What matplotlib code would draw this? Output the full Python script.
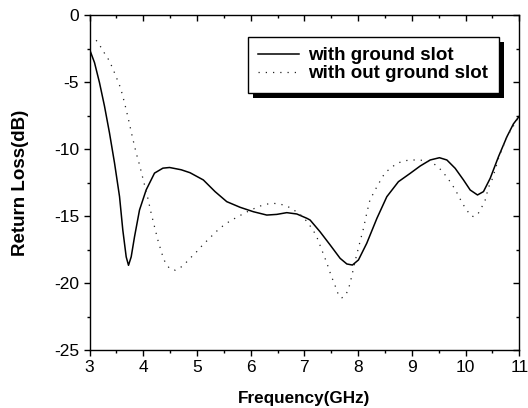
import matplotlib
matplotlib.use("Agg")
import matplotlib.pyplot as plt
from matplotlib.patches import Rectangle
from matplotlib.transforms import IdentityTransform
from matplotlib.ticker import MultipleLocator

plt.rcParams['font.family'] = ['Liberation Sans', 'DejaVu Sans']

freq_slot = [3.0, 3.093, 3.186, 3.279, 3.372, 3.466, 3.559, 3.62, 3.683, 3.726,
             3.776, 3.838, 3.931, 4.055, 4.21, 4.366, 4.49, 4.707, 4.871, 5.119,
             5.337, 5.555, 5.803, 6.05, 6.30, 6.486, 6.672, 6.859, 7.045, 7.106,
             7.29, 7.479, 7.665, 7.79, 7.894, 8.006, 8.16, 8.35, 8.534, 8.75,
             8.968, 9.155, 9.341, 9.514, 9.652, 9.806, 9.961, 10.086, 10.222, 10.333,
             10.458, 10.613, 10.77, 10.89, 11.0]
rl_slot = [-2.55, -3.55, -5.05, -6.8, -8.8, -11.05, -13.55, -16.05, -18.05, -18.68,
           -18.05, -16.55, -14.55, -13.05, -11.8, -11.43, -11.38, -11.55, -11.77, -12.31,
           -13.18, -13.93, -14.35, -14.68, -14.93, -14.88, -14.75, -14.85, -15.17, -15.3,
           -16.17, -17.16, -18.16, -18.58, -18.66, -18.28, -17.04, -15.17, -13.56, -12.44,
           -11.82, -11.27, -10.82, -10.65, -10.82, -11.44, -12.31, -13.06, -13.43, -13.18,
           -12.19, -10.57, -9.08, -8.13, -7.55]

freq_noslot = [3.124, 3.217, 3.29, 3.372, 3.478, 3.577, 3.652, 3.726, 3.795, 3.869,
               3.931, 3.993, 4.086, 4.148, 4.21, 4.273, 4.347, 4.397, 4.49, 4.60,
               4.738, 4.871, 4.996, 5.107, 5.231, 5.356, 5.48, 5.616, 5.741, 5.877,
               6.007, 6.144, 6.274, 6.41, 6.535, 6.672, 6.803, 6.933, 7.045, 7.138,
               7.22, 7.32, 7.42, 7.50, 7.56, 7.646, 7.70, 7.758, 7.82, 7.882,
               7.944, 8.04, 8.1, 8.16, 8.22, 8.35, 8.50, 8.72, 8.875, 9.0,
               9.12, 9.266, 9.384, 9.514, 9.62, 9.713, 9.793, 9.868, 9.93, 10.0,
               10.1, 10.16, 10.23, 10.30, 10.365, 10.427, 10.49, 10.54, 10.613, 10.77,
               11.0]
rl_noslot = [-1.88, -2.43, -2.93, -3.43, -4.43, -5.43, -6.55, -7.8, -9.05, -10.3,
             -11.18, -12.18, -13.68, -14.8, -15.8, -16.8, -17.8, -18.35, -18.93, -19.05,
             -18.73, -18.16, -17.66, -17.16, -16.67, -16.17, -15.75, -15.37, -15.1, -14.8,
             -14.55, -14.3, -14.13, -14.05, -14.1, -14.25, -14.55, -14.93, -15.4, -15.92,
             -16.45, -17.49, -18.53, -19.48, -20.07, -21.02, -21.1, -20.97, -20.47, -19.48,
             -18.36, -16.84, -15.92, -14.8, -13.8, -12.81, -11.77, -11.07, -10.87, -10.82,
             -10.82, -10.87, -11.02, -11.44, -11.94, -12.44, -12.94, -13.48, -13.98, -14.43,
             -15.0, -15.05, -14.85, -14.35, -13.81, -12.86, -12.31, -11.69, -10.7, -9.08,
             -7.55]

labels = ['with ground slot', 'with out ground slot']
x_ticks = [3, 4, 5, 6, 7, 8, 9, 10, 11]
y_ticks = [0, -5, -10, -15, -20, -25]

W, H = 528, 408
fig = plt.figure(figsize=(W / 100, H / 100), dpi=100)
ax = fig.add_axes([89.5 / W, 1 - 350 / H, (519.3 - 89.5) / W, (350 - 15) / H])

ax.plot(freq_slot, rl_slot, color='black', lw=1.1, label=labels[0])
ax.plot(freq_noslot, rl_noslot, color='#222222', lw=0.9, linestyle=(0, (1, 4.8)),
        label=labels[1])

ax.set_xlim(3, 11)
ax.set_ylim(-25, 0)
ax.set_xticks(x_ticks)
ax.set_yticks(y_ticks)
ax.set_xticklabels([str(t) for t in x_ticks])
ax.set_yticklabels([str(t) for t in y_ticks])
ax.xaxis.set_minor_locator(MultipleLocator(0.5))
ax.yaxis.set_minor_locator(MultipleLocator(2.5))

for s in ax.spines.values():
    s.set_linewidth(1.0)

ax.tick_params(axis='both', which='major', labelsize=12.5, length=4.5, width=1.0,
               direction='out', pad=3)
ax.tick_params(axis='both', which='minor', length=2.5, width=1.0, direction='out')
ax.tick_params(which='both', top=True, right=True)
for t in ax.xaxis.get_major_ticks() + ax.xaxis.get_minor_ticks():
    t.tick2line.set_marker(3)  # TICKDOWN: top ticks point inward
for t in ax.yaxis.get_major_ticks() + ax.yaxis.get_minor_ticks():
    t.tick2line.set_marker(0)  # TICKLEFT: right ticks point inward

ax.set_xlabel('Frequency(GHz)', fontsize=12.3, fontweight='bold')
ax.set_ylabel('Return Loss(dB)', fontsize=13.5, fontweight='bold')
ax.xaxis.set_label_coords(0.5, (350 - 391) / 335)
ax.yaxis.set_label_coords((28.5 - 89.5) / 429.8, 0.5)

leg = ax.legend(loc='upper right', bbox_to_anchor=(498.7 / W, 1 - 36.7 / H),
                bbox_transform=fig.transFigure, borderaxespad=0,
                fancybox=False, frameon=True, edgecolor='black',
                framealpha=1, prop={'weight': 'bold', 'size': 13.5},
                handlelength=2.2, handletextpad=0.48, borderpad=0.55,
                labelspacing=0.05)
leg.get_frame().set_linewidth(1.0)
leg.set_zorder(6)

fig.canvas.draw()
bb = leg.get_window_extent()
off = 5
shadow = Rectangle((bb.x0 + off, bb.y0 - off), bb.width, bb.height,
                   transform=IdentityTransform(), facecolor='black',
                   edgecolor='none', zorder=5.5, clip_on=False)
ax.add_artist(shadow)

fig.savefig('out.png', dpi=100)
